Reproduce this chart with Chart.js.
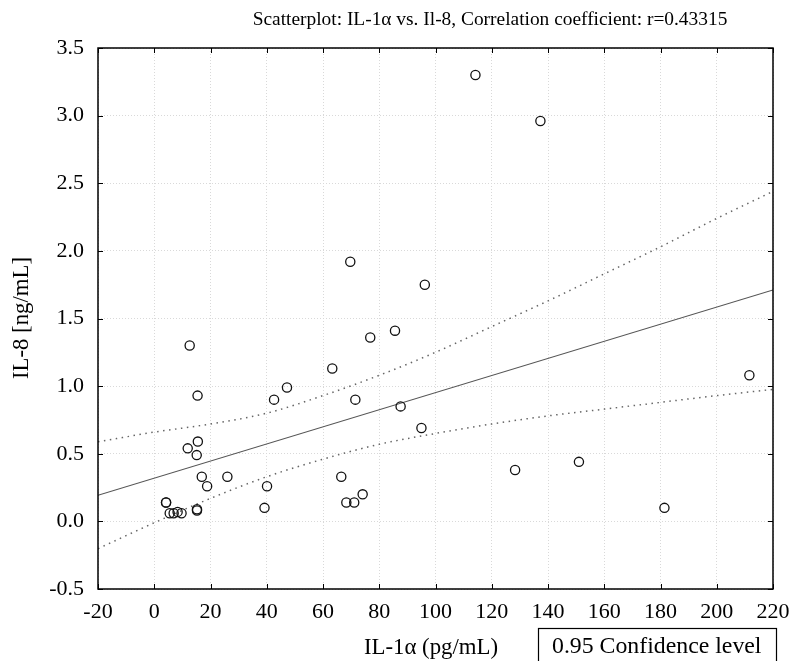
<!DOCTYPE html>
<html>
<head>
<meta charset="utf-8">
<script src="https://cdn.jsdelivr.net/npm/chart.js@4/dist/chart.umd.min.js"></script>
<style>
  html, body { margin: 0; padding: 0; background: #fff; }
  canvas { display: block; }
</style>
</head>
<body>
<canvas id="c" width="792" height="661"></canvas>
<script>
// ---- data ----
const chartTitle = "Scatterplot: IL-1\u03B1 vs. Il-8, Correlation coefficient: r=0.43315";
const xAxisTitle = "IL-1\u03B1 (pg/mL)";
const yAxisTitle = "IL-8 [ng/mL]";
const legendText = "0.95 Confidence level";

const il1a = [4.2, 4.2, 5.5, 6.9, 8.3, 9.7, 11.9, 12.6, 15.2, 15.2, 15.4, 15.5, 15.1, 16.9, 18.8, 26.0,
              39.2, 40.1, 42.6, 47.2, 63.3, 66.5, 68.3, 69.7, 71.1, 71.5, 74.1, 76.8, 85.6, 87.6, 95.0,
              96.2, 114.2, 128.3, 137.3, 151.0, 181.4, 211.6];
const il8  = [0.14, 0.14, 0.06, 0.06, 0.07, 0.06, 0.54, 1.30, 0.09, 0.08, 0.93, 0.59, 0.49, 0.33, 0.26, 0.33,
              0.10, 0.26, 0.90, 0.99, 1.13, 0.33, 0.14, 1.92, 0.14, 0.90, 0.20, 1.36, 1.41, 0.85, 0.69,
              1.75, 3.30, 0.38, 2.96, 0.44, 0.10, 1.08];

const fitX = [-20, 220];
const fitY = [0.193, 1.711];

const bandX = [-20, 0, 20, 40, 60, 80, 100, 120, 140, 160, 180, 200, 220];
const upperBand = [0.588, 0.66, 0.72, 0.80, 0.93, 1.08, 1.25, 1.44, 1.63, 1.83, 2.03, 2.24, 2.44];
const lowerBand = [-0.202, -0.01, 0.17, 0.33, 0.46, 0.57, 0.65, 0.72, 0.78, 0.83, 0.88, 0.93, 0.976];

const xTicks = [-20, 0, 20, 40, 60, 80, 100, 120, 140, 160, 180, 200, 220];
const yTicks = [-0.5, 0, 0.5, 1.0, 1.5, 2.0, 2.5, 3.0, 3.5];

// ---- build datasets ----
const zip = (a, b) => a.map((v, i) => ({ x: v, y: b[i] }));
const SERIF = '"Liberation Serif", "Times New Roman", serif';

const frameAndText = {
  id: 'frameAndText',
  afterDatasetsDraw(chart) {
    const { ctx, chartArea: a, scales } = chart;
    ctx.save();
    ctx.strokeStyle = '#000';
    ctx.lineWidth = 1;
    const tl = 5;
    xTicks.forEach(v => {
      const px = Math.round(scales.x.getPixelForValue(v)) + 0.5;
      ctx.beginPath();
      ctx.moveTo(px, a.bottom); ctx.lineTo(px, a.bottom - tl);
      ctx.moveTo(px, a.top); ctx.lineTo(px, a.top + tl);
      ctx.stroke();
    });
    yTicks.forEach(v => {
      const py = Math.round(scales.y.getPixelForValue(v)) + 0.5;
      ctx.beginPath();
      ctx.moveTo(a.left, py); ctx.lineTo(a.left + tl, py);
      ctx.moveTo(a.right, py); ctx.lineTo(a.right - tl, py);
      ctx.stroke();
    });
    ctx.lineWidth = 1.5;
    ctx.strokeRect(a.left, a.top, a.right - a.left, a.bottom - a.top);
    ctx.restore();
  },
  afterDraw(chart) {
    const { ctx } = chart;
    ctx.save();
    ctx.fillStyle = '#000';
    ctx.textBaseline = 'middle';
    ctx.font = '19.4px ' + SERIF;
    ctx.textAlign = 'center';
    ctx.fillText(chartTitle, 490, 20);
    ctx.font = '22.8px ' + SERIF;
    ctx.fillText(xAxisTitle, 431, 648);
    ctx.save();
    ctx.translate(22, 318);
    ctx.rotate(-Math.PI / 2);
    ctx.fillText(yAxisTitle, 0, 0);
    ctx.restore();
    ctx.strokeStyle = '#000';
    ctx.lineWidth = 1.2;
    ctx.strokeRect(538.5, 628.5, 238, 40);
    ctx.font = '23.8px ' + SERIF;
    ctx.textAlign = 'left';
    ctx.fillText(legendText, 552, 647);
    ctx.restore();
  }
};

new Chart(document.getElementById('c'), {
  type: 'scatter',
  data: {
    datasets: [
      {
        label: 'points',
        data: zip(il1a, il8),
        showLine: false,
        pointStyle: 'circle',
        pointRadius: 4.6,
        pointHoverRadius: 4.6,
        pointBorderWidth: 1.3,
        pointBorderColor: '#111',
        pointBackgroundColor: 'rgba(0,0,0,0)',
        order: 0
      },
      {
        label: 'fit',
        data: zip(fitX, fitY),
        showLine: true,
        borderColor: '#555',
        borderWidth: 1.2,
        pointRadius: 0,
        order: 1
      },
      {
        label: 'upper',
        data: zip(bandX, upperBand),
        showLine: true,
        borderColor: '#666',
        borderWidth: 1.5,
        borderDash: [1.5, 4.5],
        cubicInterpolationMode: 'monotone',
        pointRadius: 0,
        order: 2
      },
      {
        label: 'lower',
        data: zip(bandX, lowerBand),
        showLine: true,
        borderColor: '#666',
        borderWidth: 1.5,
        borderDash: [1.5, 4.5],
        cubicInterpolationMode: 'monotone',
        pointRadius: 0,
        order: 3
      }
    ]
  },
  options: {
    responsive: false,
    animation: false,
    events: [],
    layout: { padding: { top: 48, right: 19, bottom: 0, left: 0 } },
    plugins: {
      legend: { display: false },
      title: { display: false },
      tooltip: { enabled: false }
    },
    scales: {
      x: {
        type: 'linear',
        min: -20, max: 220,
        afterFit(s) { s.height = 72; s.paddingLeft = 0; s.paddingRight = 0; },
        afterBuildTicks(s) { s.ticks = xTicks.map(v => ({ value: v })); },
        ticks: {
          padding: 10,
          color: '#000',
          font: { family: SERIF, size: 22 },
          maxRotation: 0,
          autoSkip: false
        },
        grid: { color: '#d9d9d9', lineWidth: 1, drawTicks: false },
        border: { display: false, dash: [1, 2] }
      },
      y: {
        type: 'linear',
        min: -0.5, max: 3.5,
        afterFit(s) { s.width = 98; s.paddingTop = 0; s.paddingBottom = 0; },
        afterBuildTicks(s) { s.ticks = yTicks.map(v => ({ value: v })); },
        ticks: {
          padding: 14,
          color: '#000',
          font: { family: SERIF, size: 22 },
          callback: v => v.toFixed(1)
        },
        grid: { color: '#d9d9d9', lineWidth: 1, drawTicks: false },
        border: { display: false, dash: [1, 2] }
      }
    }
  },
  plugins: [frameAndText]
});
</script>
</body>
</html>
